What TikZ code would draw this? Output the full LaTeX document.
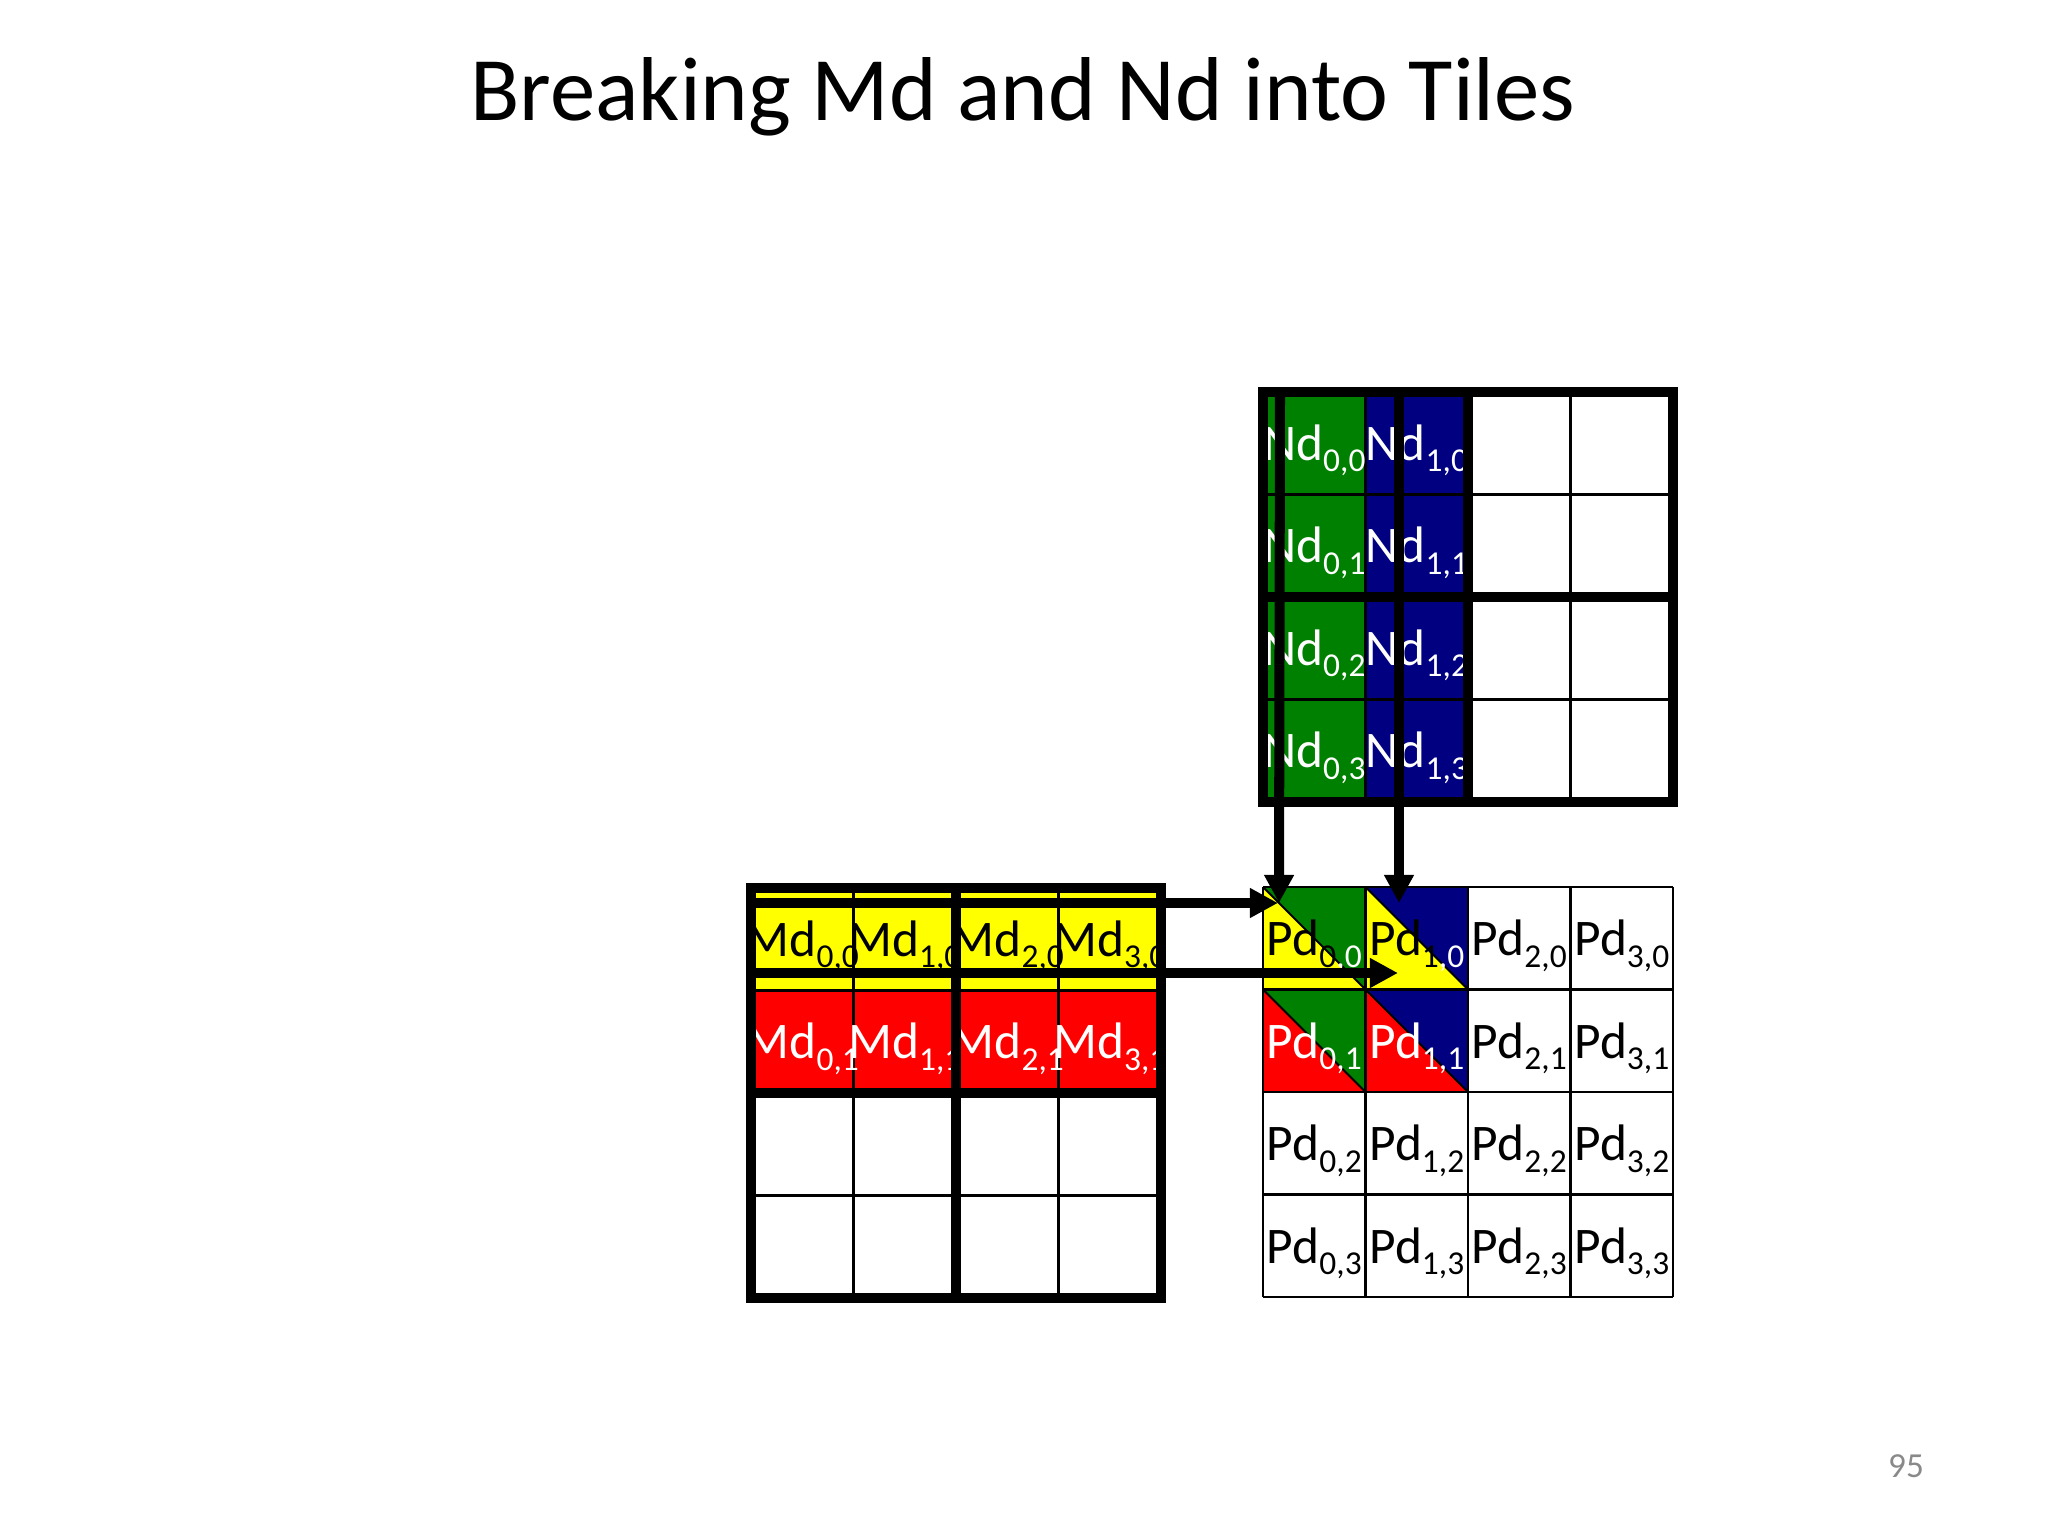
\documentclass[tikz,border=0pt]{standalone}
\usepackage{fontspec}
\setmainfont{Carlito}
\usetikzlibrary{arrows.meta}
\definecolor{myyellow}{RGB}{255,255,0}
\definecolor{myred}{RGB}{255,0,0}
\definecolor{mygreen}{RGB}{0,128,0}
\definecolor{myblue}{RGB}{0,0,128}
\definecolor{pagegray}{RGB}{137,137,137}
\newcommand\cellsub[1]{\raisebox{-3.4pt}{\fontsize{9.5pt}{10pt}\selectfont #1}}
\begin{document}
\begin{tikzpicture}[x=0.01cm,y=-0.01cm,
  thinline/.style={line width=0.6pt, black},
  thickline/.style={line width=2.85pt, black},
  flow/.style={line width=2.85pt, black, -{Triangle[length=8pt,width=8pt]}},
  celltext/.style={anchor=base, inner sep=0pt, font=\fontsize{14.6pt}{16pt}\selectfont},
]
\useasboundingbox[fill=white] (0,0) rectangle (2048,1536);

% title and page number
\node[anchor=base, inner sep=0pt, font=\fontsize{25.8pt}{30pt}\selectfont] (title) at (1023,120) {Breaking Md and Nd into Tiles};
\node[anchor=base, inner sep=0pt, text=pagegray, font=\fontsize{10pt}{12pt}\selectfont] (pagenum) at (1906,1477) {95};

% ---------- fills ----------
% Md rows
\fill[myyellow] (751,888) rectangle (1161,990.5);
\fill[myred] (751,990.5) rectangle (1161,1093);
% Nd columns
\fill[mygreen] (1263,392) rectangle (1365.5,802);
\fill[myblue] (1365.5,392) rectangle (1468,802);
% Pd triangles
\fill[myyellow] (1263,887) -- (1263,989.5) -- (1365.5,989.5) -- cycle;
\fill[mygreen] (1263,887) -- (1365.5,887) -- (1365.5,989.5) -- cycle;
\fill[myyellow] (1365.5,887) -- (1365.5,989.5) -- (1468,989.5) -- cycle;
\fill[myblue] (1365.5,887) -- (1468,887) -- (1468,989.5) -- cycle;
\fill[myred] (1263,989.5) -- (1263,1092) -- (1365.5,1092) -- cycle;
\fill[mygreen] (1263,989.5) -- (1365.5,989.5) -- (1365.5,1092) -- cycle;
\fill[myred] (1365.5,989.5) -- (1365.5,1092) -- (1468,1092) -- cycle;
\fill[myblue] (1365.5,989.5) -- (1468,989.5) -- (1468,1092) -- cycle;

% ---------- thin grids ----------
\foreach \i in {0,...,4} {
  \draw[thinline] ({751+102.5*\i},888) -- ({751+102.5*\i},1298);
  \draw[thinline] (751,{888+102.5*\i}) -- (1161,{888+102.5*\i});
  \draw[thinline] ({1263+102.5*\i},392) -- ({1263+102.5*\i},802);
  \draw[thinline] (1263,{392+102.5*\i}) -- (1673,{392+102.5*\i});
  \draw[thinline] ({1263+102.5*\i},887) -- ({1263+102.5*\i},1297);
  \draw[thinline] (1263,{887+102.5*\i}) -- (1673,{887+102.5*\i});
}
% Pd diagonals
\draw[thinline] (1263,887) -- (1365.5,989.5);
\draw[thinline] (1365.5,887) -- (1468,989.5);
\draw[thinline] (1263,989.5) -- (1365.5,1092);
\draw[thinline] (1365.5,989.5) -- (1468,1092);

% ---------- texts ----------
\foreach \i in {0,...,3} {
  \node[celltext, text=black] (md-\i-0) at ({802.25+102.5*\i},956) {Md\cellsub{\i,0}};
  \node[celltext, text=white] (md-\i-1) at ({802.25+102.5*\i},1058.5) {Md\cellsub{\i,1}};
}
\foreach \j in {0,...,3} {
  \node[celltext, text=white] (nd-0-\j) at (1314.25,{460+102.5*\j}) {Nd\cellsub{0,\j}};
  \node[celltext, text=white] (nd-1-\j) at (1416.75,{460+102.5*\j}) {Nd\cellsub{1,\j}};
}
\node[celltext, text=black] (pd-0-0) at (1314.25,955.5) {Pd\cellsub{0\textcolor{white}{,0}}};
\node[celltext, text=black] (pd-1-0) at (1416.75,955.5) {Pd\cellsub{1\textcolor{white}{,0}}};
\node[celltext, text=white] (pd-0-1) at (1314.25,1058) {Pd\cellsub{0,1}};
\node[celltext, text=white] (pd-1-1) at (1416.75,1058) {Pd\cellsub{1,1}};
\foreach \i in {2,3} {
  \node[celltext, text=black] (pd-\i-0) at ({1314.25+102.5*\i},955.5) {Pd\cellsub{\i,0}};
  \node[celltext, text=black] (pd-\i-1) at ({1314.25+102.5*\i},1058) {Pd\cellsub{\i,1}};
}
\foreach \i in {0,...,3} {
  \node[celltext, text=black] (pd-\i-2) at ({1314.25+102.5*\i},1160.5) {Pd\cellsub{\i,2}};
  \node[celltext, text=black] (pd-\i-3) at ({1314.25+102.5*\i},1263) {Pd\cellsub{\i,3}};
}

% ---------- thick tile lines ----------
\draw[thickline] (751,888) rectangle (1161,1298);
\draw[thickline] (956,888) -- (956,1298);
\draw[thickline] (751,1093) -- (1161,1093);
\draw[thickline] (1263,392) rectangle (1673,802);
\draw[thickline] (1468,392) -- (1468,802);
\draw[thickline] (1263,597) -- (1673,597);

% ---------- arrows ----------
\coordinate (n0top) at (1280,392);
\coordinate (n1top) at (1399,392);
\coordinate (m0left) at (751,903);
\coordinate (m1left) at (751,973);
\coordinate (p00in) at (1279,903);
\coordinate (p10in) at (1399,903);
\coordinate (p00left) at (1278,903);
\coordinate (p10left) at (1398,973);
\draw[flow] (n0top) -- (p00in);
\draw[flow] (n1top) -- (p10in);
\draw[flow] (m0left) -- (p00left);
\draw[flow] (m1left) -- (p10left);
\end{tikzpicture}
\end{document}
